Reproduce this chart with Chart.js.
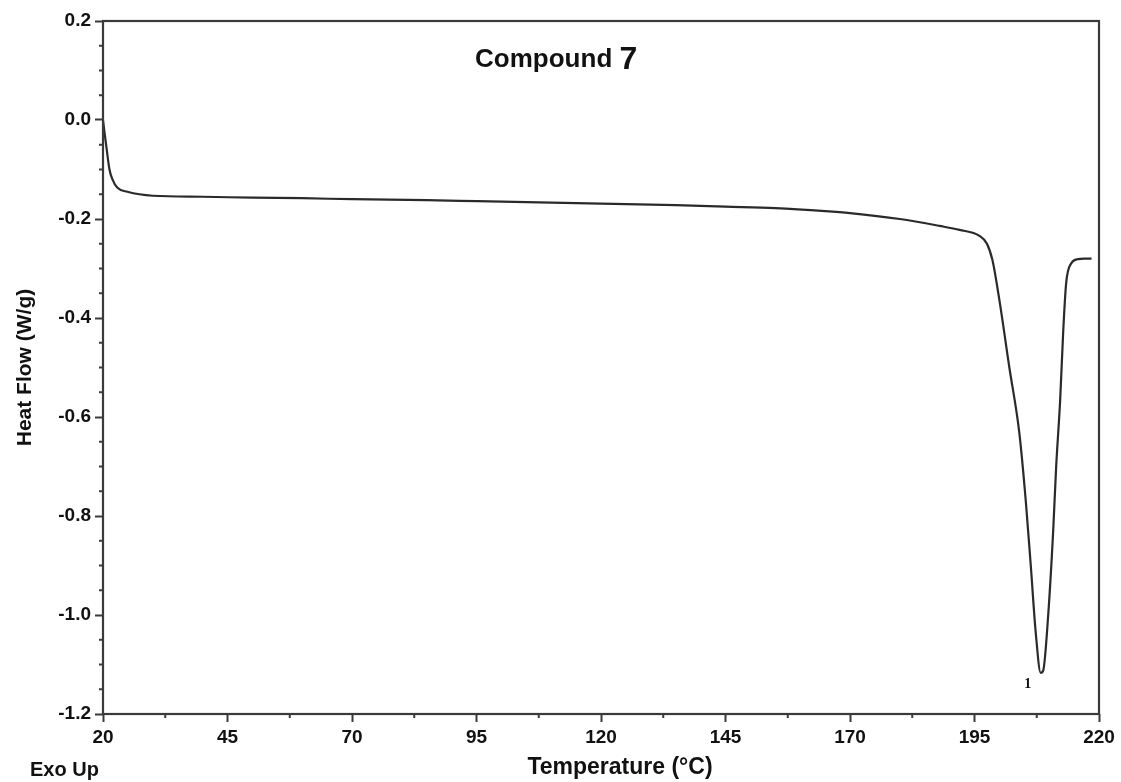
<!DOCTYPE html>
<html>
<head>
<meta charset="utf-8">
<script src="https://cdn.jsdelivr.net/npm/chart.js@4.4.1/dist/chart.umd.min.js"></script>
<style>
  html, body { margin: 0; padding: 0; background: #fff; }
  #wrap { width: 1121px; height: 782px; }
</style>
</head>
<body>
<div id="wrap"><canvas id="dsc"></canvas></div>
<script>
// DSC trace
const temps = [20.0, 20.3, 20.7, 21.3, 21.9, 22.9, 24.9, 30, 40, 50, 60, 70, 85, 95, 110, 120, 135, 145,
  155, 165, 170, 180, 188, 192, 196, 197.5, 198.6, 200, 202, 204, 205.3, 206.3, 207.3, 208.3,
  208.8, 209.8, 210.8, 211.4, 212.2, 212.8, 213.4, 214.4, 215.8, 217, 218.5];
const heatFlow = [0.0, -0.025, -0.056, -0.10, -0.12, -0.137, -0.145, -0.153, -0.155, -0.157, -0.158,
  -0.160, -0.162, -0.164, -0.167, -0.169, -0.172, -0.175, -0.178, -0.184, -0.188, -0.200, -0.214,
  -0.222, -0.234, -0.25, -0.283, -0.364, -0.50, -0.632, -0.77, -0.90, -1.036, -1.117,
  -1.112, -1.0, -0.83, -0.70, -0.566, -0.43, -0.33, -0.29, -0.281, -0.280, -0.280];

const xTicks = [20, 45, 70, 95, 120, 145, 170, 195, 220];
const yTicks = [0.2, 0.0, -0.2, -0.4, -0.6, -0.8, -1.0, -1.2];

const peakLabel = { t: 205.7, hf: -1.14, text: '1' };
const titlePos = { t: 111, hf: 0.125 };

const FONT = '"Liberation Sans", Arial, sans-serif';
const AXIS = '#3a3a3a';

const isMajorX = v => xTicks.some(t => Math.abs(t - v) < 1e-6);
const isMajorY = v => yTicks.some(t => Math.abs(t - v) < 1e-6);

const decor = {
  id: 'decor',
  afterDraw(chart) {
    const { ctx, chartArea: a, scales: { x, y } } = chart;
    ctx.save();
    // frame
    ctx.strokeStyle = AXIS;
    ctx.lineWidth = 2.2;
    ctx.strokeRect(a.left, a.top, a.right - a.left, a.bottom - a.top);

    // minor ticks
    ctx.lineWidth = 2;
    x.ticks.forEach(tk => {
      if (isMajorX(tk.value)) return;
      const px = x.getPixelForValue(tk.value);
      ctx.beginPath(); ctx.moveTo(px, a.bottom); ctx.lineTo(px, a.bottom + 4); ctx.stroke();
    });
    y.ticks.forEach(tk => {
      if (isMajorY(tk.value)) return;
      const py = y.getPixelForValue(tk.value);
      ctx.beginPath(); ctx.moveTo(a.left, py); ctx.lineTo(a.left - 4, py); ctx.stroke();
    });

    ctx.fillStyle = '#111';
    // title
    ctx.font = 'bold 26px ' + FONT;
    ctx.textBaseline = 'alphabetic';
    const tx = x.getPixelForValue(titlePos.t);
    const ty = y.getPixelForValue(titlePos.hf);
    const w1 = ctx.measureText('Compound ').width;
    ctx.font = 'bold 32px ' + FONT;
    const w2 = ctx.measureText('7').width;
    const start = tx - (w1 + w2) / 2;
    ctx.font = 'bold 26px ' + FONT;
    ctx.textAlign = 'left';
    ctx.fillText('Compound ', start, ty + 9);
    ctx.font = 'bold 32px ' + FONT;
    ctx.fillText('7', start + w1, ty + 11);

    // peak label
    ctx.font = 'bold 14px "Liberation Serif", serif';
    ctx.textAlign = 'center';
    ctx.textBaseline = 'middle';
    ctx.fillText(peakLabel.text, x.getPixelForValue(peakLabel.t), y.getPixelForValue(peakLabel.hf));

    // axis titles
    ctx.font = 'bold 23px ' + FONT;
    ctx.fillText('Temperature (\u00b0C)', (a.left + a.right) / 2 + 19, 768);
    ctx.font = 'bold 20px ' + FONT;
    ctx.textAlign = 'left';
    ctx.fillText('Exo Up', 30, 770);
    ctx.translate(25, (a.top + a.bottom) / 2);
    ctx.rotate(-Math.PI / 2);
    ctx.font = 'bold 21px ' + FONT;
    ctx.textAlign = 'center';
    ctx.fillText('Heat Flow (W/g)', 0, 0);
    ctx.restore();
  }
};

new Chart(document.getElementById('dsc'), {
  type: 'line',
  data: {
    labels: temps,
    datasets: [{
      data: temps.map((t, i) => ({ x: t, y: heatFlow[i] })),
      borderColor: '#2a2a2a',
      borderWidth: 2.2,
      pointRadius: 0,
      cubicInterpolationMode: 'monotone',
      fill: false
    }]
  },
  options: {
    responsive: true,
    maintainAspectRatio: false,
    animation: false,
    events: [],
    layout: { padding: { top: 21, right: 22, left: 0, bottom: 0 } },
    plugins: { legend: { display: false }, tooltip: { enabled: false } },
    scales: {
      x: {
        type: 'linear',
        min: 20,
        max: 220,
        afterFit: s => { s.height = 68; },
        afterBuildTicks: s => {
          const out = [];
          for (let v = 20; v <= 220 + 1e-6; v += 12.5) out.push({ value: v });
          s.ticks = out;
        },
        grid: {
          drawOnChartArea: false,
          tickLength: 8,
          tickWidth: 2,
          tickColor: c => isMajorX(c.tick.value) ? AXIS : 'rgba(0,0,0,0)'
        },
        border: { display: false },
        ticks: {
          autoSkip: false,
          maxRotation: 0,
          padding: 4,
          color: '#111',
          font: { family: FONT, size: 19, weight: 'bold' },
          callback: v => isMajorX(v) ? String(v) : ''
        }
      },
      y: {
        type: 'linear',
        min: -1.2,
        max: 0.2,
        afterFit: s => { s.width = 103; },
        afterBuildTicks: s => {
          const out = [];
          for (let i = 0; i <= 28; i++) out.push({ value: Math.round((-1.2 + i * 0.05) * 100) / 100 });
          s.ticks = out;
        },
        grid: {
          drawOnChartArea: false,
          tickLength: 8,
          tickWidth: 2,
          tickColor: c => isMajorY(c.tick.value) ? AXIS : 'rgba(0,0,0,0)'
        },
        border: { display: false },
        ticks: {
          autoSkip: false,
          padding: 4,
          color: '#111',
          font: { family: FONT, size: 19, weight: 'bold' },
          callback: v => isMajorY(v) ? v.toFixed(1) : ''
        }
      }
    }
  },
  plugins: [decor]
});
</script>
</body>
</html>
